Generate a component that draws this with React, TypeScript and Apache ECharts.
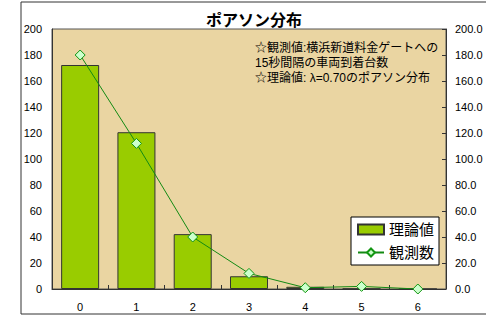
import React, { useEffect, useRef } from "react";
import * as echarts from "echarts";

const categories = ["0", "1", "2", "3", "4", "5", "6"];
const theoretical = [172.3, 120.6, 42.2, 9.8, 1.7, 0.2, 0.0];
const observed = [180, 112, 40, 12, 1, 2, 0];
const titleText = "ポアソン分布";
const noteLines = [
  "☆観測値:横浜新道料金ゲートへの",
  "15秒間隔の車両到着台数",
  "☆理論値: λ=0.70のポアソン分布",
];
const seriesNames = ["理論値", "観測数"];

const FONT = '"Liberation Sans", Arial, "Noto Sans CJK JP", sans-serif';

export default function App() {
  const ref = useRef<HTMLDivElement>(null);
  useEffect(() => {
    document.body.style.margin = "0";
    const chart = echarts.init(ref.current!, null, { renderer: "svg" });
    chart.setOption({
      animation: false,
      backgroundColor: "#ffffff",
      textStyle: { fontFamily: FONT },
      title: {
        text: titleText,
        left: 249,
        textAlign: "center",
        top: 7,
        textStyle: { fontSize: 16, fontWeight: "bold", color: "#000", fontFamily: FONT },
      },
      grid: {
        left: 52,
        top: 29,
        width: 394,
        height: 260,
        show: true,
        backgroundColor: "#ead5a2",
        borderColor: "#555",
        borderWidth: 1,
      },
      legend: {
        orient: "vertical",
        left: 351,
        top: 217,
        backgroundColor: "#ffffff",
        borderColor: "#000",
        borderWidth: 1,
        borderRadius: 0,
        padding: [5, 5, 5, 6],
        itemGap: 8,
        itemWidth: 26,
        itemHeight: 10,
        textStyle: { fontSize: 15, color: "#000", fontFamily: FONT },
        data: [
          { name: seriesNames[0], icon: "rect" },
          { name: seriesNames[1] },
        ],
      },
      xAxis: {
        type: "category",
        data: categories,
        axisLine: { show: true, lineStyle: { color: "#333", width: 1 } },
        axisTick: { show: true, inside: true, length: 4, lineStyle: { color: "#333" } },
        axisLabel: { fontSize: 11, color: "#000", margin: 12, fontFamily: FONT },
      },
      yAxis: [
        {
          type: "value",
          min: 0,
          max: 200,
          interval: 20,
          axisLine: { show: true, lineStyle: { color: "#333", width: 1 } },
          axisTick: { show: false },
          splitLine: { show: false },
          axisLabel: { fontSize: 11, color: "#000", margin: 10, fontFamily: FONT },
        },
        {
          type: "value",
          min: 0,
          max: 200,
          interval: 20,
          position: "right",
          axisLine: { show: true, lineStyle: { color: "#333", width: 1 } },
          axisTick: { show: true, inside: true, length: 4, lineStyle: { color: "#333" } },
          splitLine: { show: false },
          axisLabel: {
            fontSize: 11,
            color: "#000",
            margin: 9,
            fontFamily: FONT,
            formatter: (v: number) => v.toFixed(1),
          },
        },
      ],
      series: [
        {
          name: seriesNames[0],
          type: "bar",
          data: theoretical,
          barWidth: 38,
          itemStyle: { color: "#99cc00", borderColor: "#333", borderWidth: 1 },
        },
        {
          name: seriesNames[1],
          type: "line",
          yAxisIndex: 1,
          data: observed,
          symbol: "diamond",
          symbolSize: 10,
          lineStyle: { color: "#138a13", width: 1 },
          itemStyle: { color: "#ccffcc", borderColor: "#129612", borderWidth: 1 },
          z: 5,
        },
      ],
      graphic: [
        {
          type: "rect",
          z: -10,
          silent: true,
          shape: { x: 21, y: 2, width: 480, height: 312 },
          style: { fill: "none", stroke: "#333", lineWidth: 1 },
        },
        {
          type: "text",
          left: 255,
          top: 40,
          style: {
            text: noteLines.join("\n"),
            fontSize: 12,
            lineHeight: 15,
            fill: "#000",
            fontFamily: FONT,
          },
        },
      ],
    });
    return () => chart.dispose();
  }, []);
  return (
    <div
      ref={ref}
      style={{ position: "absolute", left: 0, top: 0, width: 486, height: 316 }}
    />
  );
}
